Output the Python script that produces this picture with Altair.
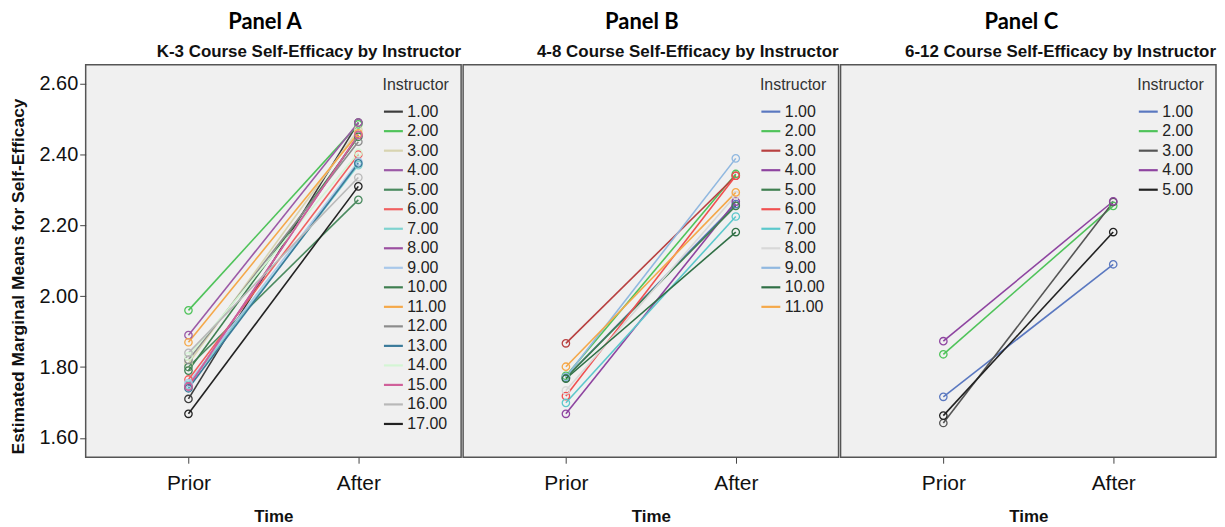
import altair as alt
import pandas as pd

times = ["Prior", "After"]

inst_A = ["1.00", "2.00", "3.00", "4.00", "5.00", "6.00", "7.00", "8.00", "9.00",
          "10.00", "11.00", "12.00", "13.00", "14.00", "15.00", "16.00", "17.00"]
prior_A = [1.71, 1.96, 1.81, 1.89, 1.80, 1.765, 1.75, 1.745, 1.755, 1.79, 1.87,
           1.82, 1.74, 1.83, 1.745, 1.84, 1.668]
after_A = [2.49, 2.485, 2.47, 2.49, 2.272, 2.40, 2.37, 2.455, 2.38, 2.45, 2.46,
           2.436, 2.375, 2.405, 2.455, 2.335, 2.31]
colors_A = ["#3c3c3c", "#4fc35a", "#d8d4b0", "#9b59a6", "#4a8a5f", "#f06060",
            "#7fd3d0", "#9b4fa0", "#a8c8ea", "#3f7f50", "#f5a849", "#8c8c8c",
            "#3a7a9a", "#d4f5d4", "#d0609a", "#b8b8b8", "#222222"]

inst_B = ["1.00", "2.00", "3.00", "4.00", "5.00", "6.00", "7.00", "8.00", "9.00",
          "10.00", "11.00"]
prior_B = [1.77, 1.775, 1.867, 1.668, 1.77, 1.718, 1.699, 1.734, 1.772, 1.767, 1.801]
after_B = [2.26, 2.345, 2.34, 2.267, 2.255, 2.34, 2.225, 2.285, 2.389, 2.181, 2.293]
colors_B = ["#5a78c0", "#4fc35a", "#b84040", "#8e44a0", "#3f7f50", "#f05050",
            "#5bc8cc", "#d8d8d8", "#90b8e0", "#2f6f45", "#f5a849"]

inst_C = ["1.00", "2.00", "3.00", "4.00", "5.00"]
prior_C = [1.716, 1.836, 1.642, 1.873, 1.663]
after_C = [2.09, 2.255, 2.266, 2.268, 2.181]
colors_C = ["#5a78c0", "#4fc35a", "#555555", "#8e44a0", "#222222"]

panel_titles = ["Panel A", "Panel B", "Panel C"]
panel_title_dx = [30, -9, -7]
sub_titles = ["K-3 Course Self-Efficacy by Instructor",
              "4-8 Course Self-Efficacy by Instructor",
              "6-12 Course Self-Efficacy by Instructor"]
y_ticks = [1.6, 1.8, 2.0, 2.2, 2.4, 2.6]
Y_DOMAIN = [1.5455, 2.653]

FONT = "Liberation Sans"
W, H = 377, 394


def make_panel(idx, inst, prior, after, colors, show_y):
    rows = []
    for i, p, a in zip(inst, prior, after):
        rows.append({"Instructor": i, "Time": "Prior", "Value": p})
        rows.append({"Instructor": i, "Time": "After", "Value": a})
    df = pd.DataFrame(rows)

    x = alt.X("Time:N", scale=alt.Scale(type="point", domain=times, padding=0.605),
              axis=alt.Axis(title="Time", labelFontSize=21, labelFont=FONT,
                            labelColor="#111", titleFont=FONT, titleFontSize=17,
                            titleFontWeight="bold", titleColor="#111",
                            labelAngle=0, domain=False, tickSize=6,
                            tickColor="#444", labelPadding=9, titlePadding=16,
                            grid=False))
    if show_y:
        yax = alt.Axis(title="Estimated Marginal Means for Self-Efficacy",
                       values=y_ticks, format=".2f", labelFontSize=20,
                       labelFont=FONT, labelColor="#111", titleFont=FONT,
                       titleFontSize=17.5, titleFontWeight="bold", titleColor="#111",
                       domain=False, tickSize=6, tickColor="#444", labelPadding=2,
                       titlePadding=12, titleY=212, grid=False)
    else:
        yax = None
    y = alt.Y("Value:Q", scale=alt.Scale(domain=Y_DOMAIN, nice=False, zero=False),
              axis=yax)
    color_scale = alt.Scale(domain=inst, range=colors)

    lines = alt.Chart(df).mark_line(strokeWidth=1.6).encode(
        x=x, y=y,
        color=alt.Color("Instructor:N", scale=color_scale,
                        legend=alt.Legend(title="Instructor", orient="top-right",
                                          offset=12, symbolType="stroke",
                                          symbolSize=361, symbolStrokeWidth=2.2,
                                          labelFont=FONT, labelFontSize=16,
                                          labelColor="#222", titleFont=FONT,
                                          titleFontSize=16, titleFontWeight="normal",
                                          titleColor="#333", rowPadding=0.6,
                                          titlePadding=8, labelOffset=3)),
        detail="Instructor:N",
    )
    points = alt.Chart(df).mark_point(shape="circle", filled=False, size=55,
                                      strokeWidth=1.3, opacity=1).encode(
        x=x, y=y,
        color=alt.Color("Instructor:N", scale=color_scale, legend=None),
    )
    layer = alt.layer(lines, points).properties(
        width=W, height=H,
        title=alt.Title(sub_titles[idx], anchor="end", font=FONT, fontSize=17,
                        fontWeight="bold", color="#111", offset=4),
        view=alt.ViewBackground(fill="#f0f0f0", stroke="#555", strokeWidth=1.5),
    )
    wrapped = alt.vconcat(layer).properties(
        title=alt.Title(panel_titles[idx], anchor="middle", font="Lato",
                        fontSize=22, fontWeight="bold", color="#000", offset=8,
                        dx=panel_title_dx[idx]),
    ).resolve_scale(color="independent")
    return wrapped


pA = make_panel(0, inst_A, prior_A, after_A, colors_A, True)
pB = make_panel(1, inst_B, prior_B, after_B, colors_B, False)
pC = make_panel(2, inst_C, prior_C, after_C, colors_C, False)

chart = alt.hconcat(pA, pB, pC, spacing=0).resolve_scale(
    color="independent"
).properties(
    padding={"left": 0, "top": 2, "right": 0, "bottom": 0},
    background="white",
)

chart.save("out.html", embed_options={"renderer": "svg", "actions": False})
